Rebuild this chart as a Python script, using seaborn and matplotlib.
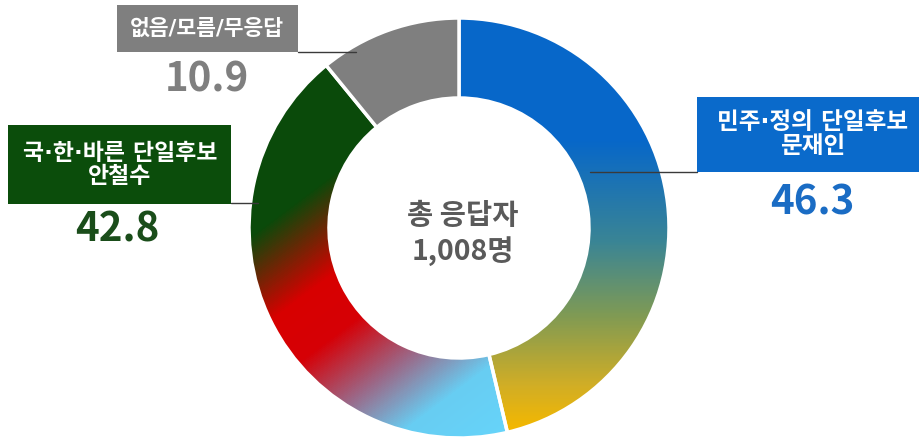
import numpy as np
import matplotlib
matplotlib.use("Agg")
import matplotlib.pyplot as plt
import seaborn as sns
from matplotlib.colors import LinearSegmentedColormap
from matplotlib.patches import Rectangle

# data
labels = ["민주·정의 단일후보\n문재인", "국·한·바른 단일후보\n안철수", "없음/모름/무응답"]
values = [46.3, 42.8, 10.9]
value_texts = ["46.3", "42.8", "10.9"]
center_lines = ["총 응답자", "1,008명"]

W, H = 919, 441
CX, CY, R, RING = 459, 228, 210, 80

sns.set_style("white")
plt.rcParams['font.family'] = ['Noto Sans CJK KR', 'DejaVu Sans']
# narrow middot / space from DejaVu, hangul falls back to Noto
LABEL_FONT = ['DejaVu Sans', 'Noto Sans CJK KR']


def Y(y):
    # pixel row -> data y (data y goes up)
    return H - y


fig = plt.figure(figsize=(W / 100, H / 100), dpi=100)
ax = fig.add_axes([0, 0, 1, 1])

wedges, _ = ax.pie(values, startangle=90, counterclock=False, radius=R,
                   center=(CX, Y(CY)),
                   colors=["none", "none", "#7f7f7f"],
                   wedgeprops=dict(width=RING, edgecolor="white", linewidth=2.5))
for w in wedges:
    w.set_zorder(3)

ax.set_xlim(0, W)
ax.set_ylim(0, H)
ax.set_aspect("equal")
ax.axis("off")

# gradient fills clipped to the wedges
xx, yy = np.meshgrid(np.arange(W) + 0.5, np.arange(H) + 0.5)

blue_cmap = LinearSegmentedColormap.from_list("blue", [
    (0.0, "#0767c9"), (0.35, "#3a8595"), (0.6, "#7e9a55"),
    (0.85, "#d2ae25"), (1.0, "#f4b800")])
t_blue = np.clip((yy - 140) / 290, 0, 1)
img_blue = blue_cmap(t_blue)

left_cmap = LinearSegmentedColormap.from_list("left", [
    (0.0, "#0a4a0a"), (0.26, "#0a4a0a"), (0.45, "#d80000"),
    (0.57, "#d60006"), (0.72, "#9a6a8a"), (0.85, "#68cdf2"), (1.0, "#66d4fa")])
t_left = np.clip(((xx - 250) * 0.6 + (yy - 100) * 0.8) / 420, 0, 1)
img_left = left_cmap(t_left)

for img, wedge in [(img_blue, wedges[0]), (img_left, wedges[1])]:
    im = ax.imshow(img, extent=(0, W, 0, H), origin="upper", zorder=2,
                   interpolation="bilinear")
    im.set_clip_path(wedge)

# label boxes
boxes = [
    (697, 97, 222, 75, "#0a6acb"),
    (8, 125, 223, 79, "#0b4d0b"),
    (117, 5, 181, 47, "#7f7f7f"),
]
box_text_pos = [(813, 134), (120, 165), (207, 29)]
box_text_size = [17, 16.5, 15.5]
num_pos = [(812, 203), (117, 230), (207, 80)]
num_colors = ["#1a6cc4", "#1a4d1a", "#7f7f7f"]
leaders = [((590, 697), 172), ((231, 258), 203), ((298, 356), 52)]

for (bx, by, bw, bh, col), (tx, ty), fs, lab in zip(boxes, box_text_pos,
                                                     box_text_size, labels):
    ax.add_patch(Rectangle((bx, Y(by + bh)), bw, bh, facecolor=col,
                           edgecolor="none", zorder=4))
    ax.text(tx, Y(ty), lab, ha="center", va="center", color="white",
            fontsize=fs, fontweight="bold", linespacing=1.05, zorder=5,
            family=LABEL_FONT)

for (nx, ny), txt, col in zip(num_pos, value_texts, num_colors):
    ax.text(nx, Y(ny), txt, ha="center", va="center", color=col,
            fontsize=29, fontweight="bold", zorder=5)

for (x0, x1), ly in leaders:
    ax.plot([x0, x1], [Y(ly), Y(ly)], color="#3a3a3a", lw=1, zorder=4)

# center text
ax.text(CX + 4, Y(216), center_lines[0], ha="center", va="center",
        color="#5a5a5a", fontsize=20.5, fontweight="bold", zorder=5)
ax.text(CX + 4, Y(251), center_lines[1], ha="center", va="center",
        color="#5a5a5a", fontsize=20.5, fontweight="bold", zorder=5)

fig.savefig("out.png", dpi=100)
